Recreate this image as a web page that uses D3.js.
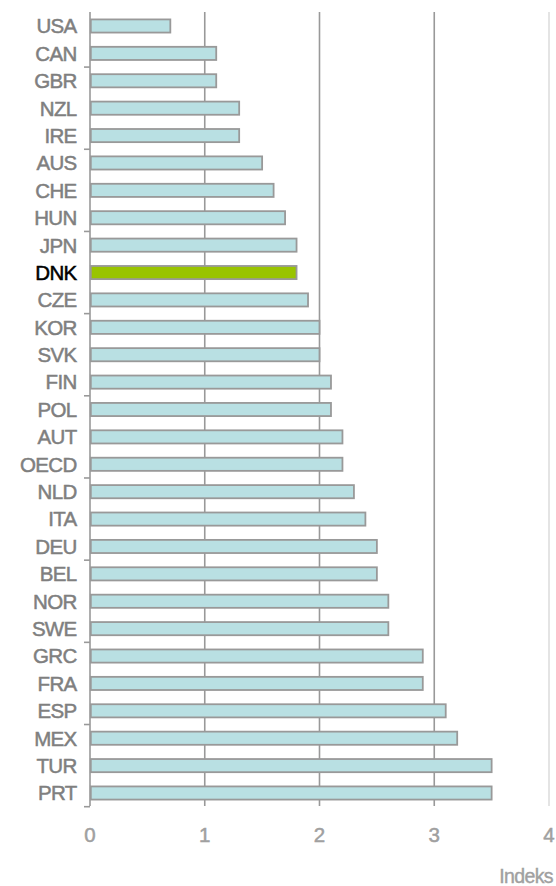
<!DOCTYPE html>
<html><head><meta charset="utf-8">
<script src="https://cdn.jsdelivr.net/npm/d3@7"></script>
<style>body{margin:0;background:#fff;}svg{display:block;font-family:"Liberation Sans",Arial,sans-serif;}</style>
</head><body><svg id="c" width="556" height="886"></svg>
<script>
const categories = ["USA","CAN","GBR","NZL","IRE","AUS","CHE","HUN","JPN","DNK","CZE","KOR","SVK","FIN","POL","AUT","OECD","NLD","ITA","DEU","BEL","NOR","SWE","GRC","FRA","ESP","MEX","TUR","PRT"];
const values = [0.7,1.1,1.1,1.3,1.3,1.5,1.6,1.7,1.8,1.8,1.9,2.0,2.0,2.1,2.1,2.2,2.2,2.3,2.4,2.5,2.5,2.6,2.6,2.9,2.9,3.1,3.2,3.5,3.5];
const xTicks = [0,1,2,3,4];
const highlight = "DNK";
const unitLabel = "Indeks";

const svg = d3.select("#c");
const x = d3.scaleLinear().domain([0,4]).range([90,549]);
const y = d3.scaleBand().domain(categories).range([12.3,806.7]).paddingInner(0.52).paddingOuter(0.26);
const yb = d3.scaleLinear().domain([0,categories.length]).range([12.3,806.7]);

// gridlines
svg.append("g").selectAll("line").data(xTicks.slice(1)).join("line")
  .attr("x1",d=>x(d)).attr("x2",d=>x(d)).attr("y1",12).attr("y2",806)
  .attr("stroke",d=>d===4?"#e4e4e4":"#999").attr("stroke-width",d=>d===4?2:1.6);

// axis line + ticks
svg.append("line").attr("x1",x(0)).attr("x2",x(0)).attr("y1",12).attr("y2",806)
  .attr("stroke","#999").attr("stroke-width",1.6);
const tickIdx = d3.range(2, categories.length+1, 3);
svg.append("g").selectAll("line").data(tickIdx).join("line")
  .attr("x1",x(0)-6).attr("x2",x(0)).attr("y1",d=>yb(d)).attr("y2",d=>yb(d))
  .attr("stroke","#999").attr("stroke-width",1.6);

// bars
svg.append("g").selectAll("rect").data(categories).join("rect")
  .attr("x",x(0)+0.8).attr("y",d=>y(d))
  .attr("width",(d,i)=>x(values[i])-x(0)-0.8).attr("height",y.bandwidth())
  .attr("fill",d=>d===highlight?"#99c400":"#b9e0e3")
  .attr("stroke","#999").attr("stroke-width",1.8);

// category labels
svg.append("g").selectAll("text").data(categories).join("text")
  .attr("x",76.5).attr("y",d=>y(d)+y.bandwidth()/2).attr("dy","0.36em")
  .attr("text-anchor","end").attr("font-size",20.5).attr("letter-spacing",-0.7)
  .attr("fill",d=>d===highlight?"#000":"#7f7f7f")
  .attr("stroke",d=>d===highlight?"#000":"#7f7f7f").attr("stroke-width",0.5)
  .text(d=>d);

// x tick labels
svg.append("g").selectAll("text").data(xTicks).join("text")
  .attr("x",d=>x(d)).attr("y",842).attr("text-anchor","middle")
  .attr("font-size",20.5).attr("fill","#a0a0a0")
  .attr("stroke","#a0a0a0").attr("stroke-width",0.5).text(d=>d);

svg.append("text").attr("x",553).attr("y",883).attr("text-anchor","end")
  .attr("font-size",19.5).attr("letter-spacing",-0.6).attr("fill","#a0a0a0")
  .attr("stroke","#a0a0a0").attr("stroke-width",0.4).text(unitLabel);
</script></body></html>
